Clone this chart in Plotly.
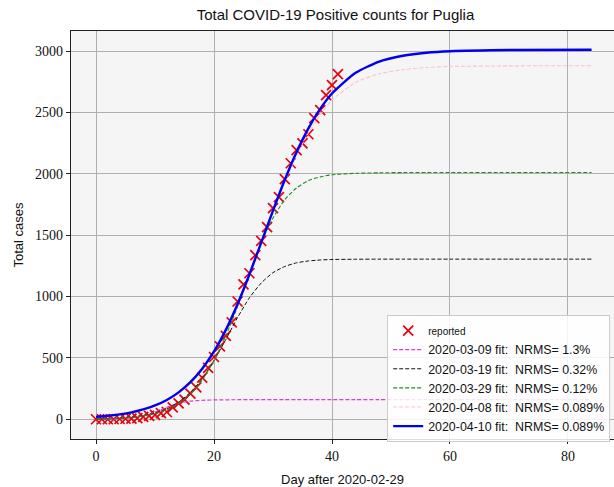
import plotly.graph_objects as go

# ---------------- data ----------------
report_days = list(range(42))
reported = [1, 1, 1, 1, 3, 5, 6, 10, 20, 29, 37, 50, 60, 98, 130, 161, 210, 260,
            340, 420, 508, 595, 680, 790, 960, 1100, 1190, 1337, 1453, 1565, 1720,
            1810, 1956, 2086, 2192, 2247, 2322, 2453, 2518, 2640, 2722, 2812]

fit_days = [0, 2, 4, 6, 8, 10, 12, 14, 16, 18, 20, 22, 24, 26, 28, 30, 32, 34, 36,
            38, 40, 44, 48, 52, 56, 60, 70, 84]

fit_0309 = [1, 2, 5, 12, 28, 58, 98, 132, 148, 155, 158, 159, 160, 160, 160, 160,
            160, 160, 160, 160, 160, 160, 160, 160, 160, 160, 160, 160]
fit_0319 = [3, 5, 9, 17, 30, 52, 85, 140, 220, 330, 480, 650, 830, 990, 1110, 1195,
            1245, 1275, 1290, 1298, 1302, 1304, 1305, 1305, 1305, 1305, 1305, 1305]
fit_0329 = [4, 6, 10, 17, 28, 48, 80, 130, 205, 320, 480, 680, 920, 1180, 1440, 1640,
            1790, 1885, 1945, 1975, 1992, 2004, 2008, 2010, 2010, 2010, 2010, 2010]
fit_0408 = [18, 27, 39, 55, 78, 110, 155, 216, 298, 408, 548, 724, 935, 1175, 1432,
            1690, 1935, 2150, 2335, 2480, 2600, 2745, 2815, 2848, 2866, 2874, 2879, 2880]
fit_0410 = [20, 29, 41, 57, 81, 113, 158, 220, 303, 413, 553, 729, 940, 1180, 1440,
            1700, 1951, 2177, 2370, 2529, 2654, 2822, 2914, 2961, 2986, 2998, 3008, 3010]

fit_labels = ["2020-03-09 fit:\u00a0\u00a0NRMS= 1.3%",
              "2020-03-19 fit:\u00a0\u00a0NRMS= 0.32%",
              "2020-03-29 fit:\u00a0\u00a0NRMS= 0.12%",
              "2020-04-08 fit:\u00a0\u00a0NRMS= 0.089%",
              "2020-04-10 fit:\u00a0\u00a0NRMS= 0.089%"]

x_ticks = [0, 20, 40, 60, 80]
y_ticks = [0, 500, 1000, 1500, 2000, 2500, 3000]

# ---------------- figure ----------------
fig = go.Figure()

fig.add_trace(go.Scatter(
    x=report_days, y=reported, mode="markers",
    name="<span style='font-size:10px'>reported</span>",
    marker=dict(symbol="x-thin", size=10, line=dict(color="#e8000b", width=1.7), color="#e8000b"),
))

styles = [
    dict(color="#d43fd4", width=1.2, dash="4px,2px"),
    dict(color="#111111", width=1.0, dash="4px,2px"),
    dict(color="#228b22", width=1.1, dash="4px,2px"),
    dict(color="#ffc0cb", width=1.1, dash="4px,2px"),
    dict(color="#0000ee", width=2.4, dash="solid"),
]
for vals, lab, st in zip([fit_0309, fit_0319, fit_0329, fit_0408, fit_0410], fit_labels, styles):
    fig.add_trace(go.Scatter(
        x=fit_days, y=vals, mode="lines", name=lab,
        line=dict(color=st["color"], width=st["width"], dash=st["dash"],
                  shape="spline", smoothing=0.6),
    ))

fig.update_layout(
    width=614, height=487,
    margin=dict(l=71, r=0, t=31, b=48, autoexpand=False),
    paper_bgcolor="white",
    plot_bgcolor="#f5f5f5",
    title=dict(text="Total COVID-19 Positive counts for Puglia",
               x=0.487, xref="paper", xanchor="center", y=0.97, yref="container",
               yanchor="middle", font=dict(family="Liberation Sans", size=15, color="#111111")),
    showlegend=True,
    legend=dict(x=0.993, y=0.304, xanchor="right", yanchor="top",
                bgcolor="rgba(255,255,255,0.85)", bordercolor="#cccccc", borderwidth=1,
                font=dict(family="Liberation Sans", size=12.4, color="#111111"),
                tracegroupgap=0, itemwidth=30),
)

fig.update_xaxes(
    range=[-4.24, 87.8], tickvals=x_ticks, ticktext=[str(v) for v in x_ticks],
    showgrid=True, gridcolor="#b0b0b0", gridwidth=1.2, zeroline=False,
    showline=True, linecolor="#222222", linewidth=1.2, mirror=True,
    ticks="outside", ticklen=4, tickcolor="#222222",
    tickfont=dict(family="Liberation Serif", size=14, color="#111111"),
    title=dict(text="Day after 2020-02-29", standoff=11,
               font=dict(family="Liberation Sans", size=13, color="#111111")),
)
fig.update_yaxes(
    range=[-160, 3163], tickvals=y_ticks, ticktext=[str(v) for v in y_ticks],
    showgrid=True, gridcolor="#b0b0b0", gridwidth=1.2, zeroline=False,
    showline=True, linecolor="#222222", linewidth=1.2, mirror=False,
    ticks="outside", ticklen=4, tickcolor="#222222",
    tickfont=dict(family="Liberation Serif", size=14, color="#111111"),
    title=dict(text="Total cases", standoff=8,
               font=dict(family="Liberation Sans", size=13, color="#111111")),
)

fig.write_html("out.html")
